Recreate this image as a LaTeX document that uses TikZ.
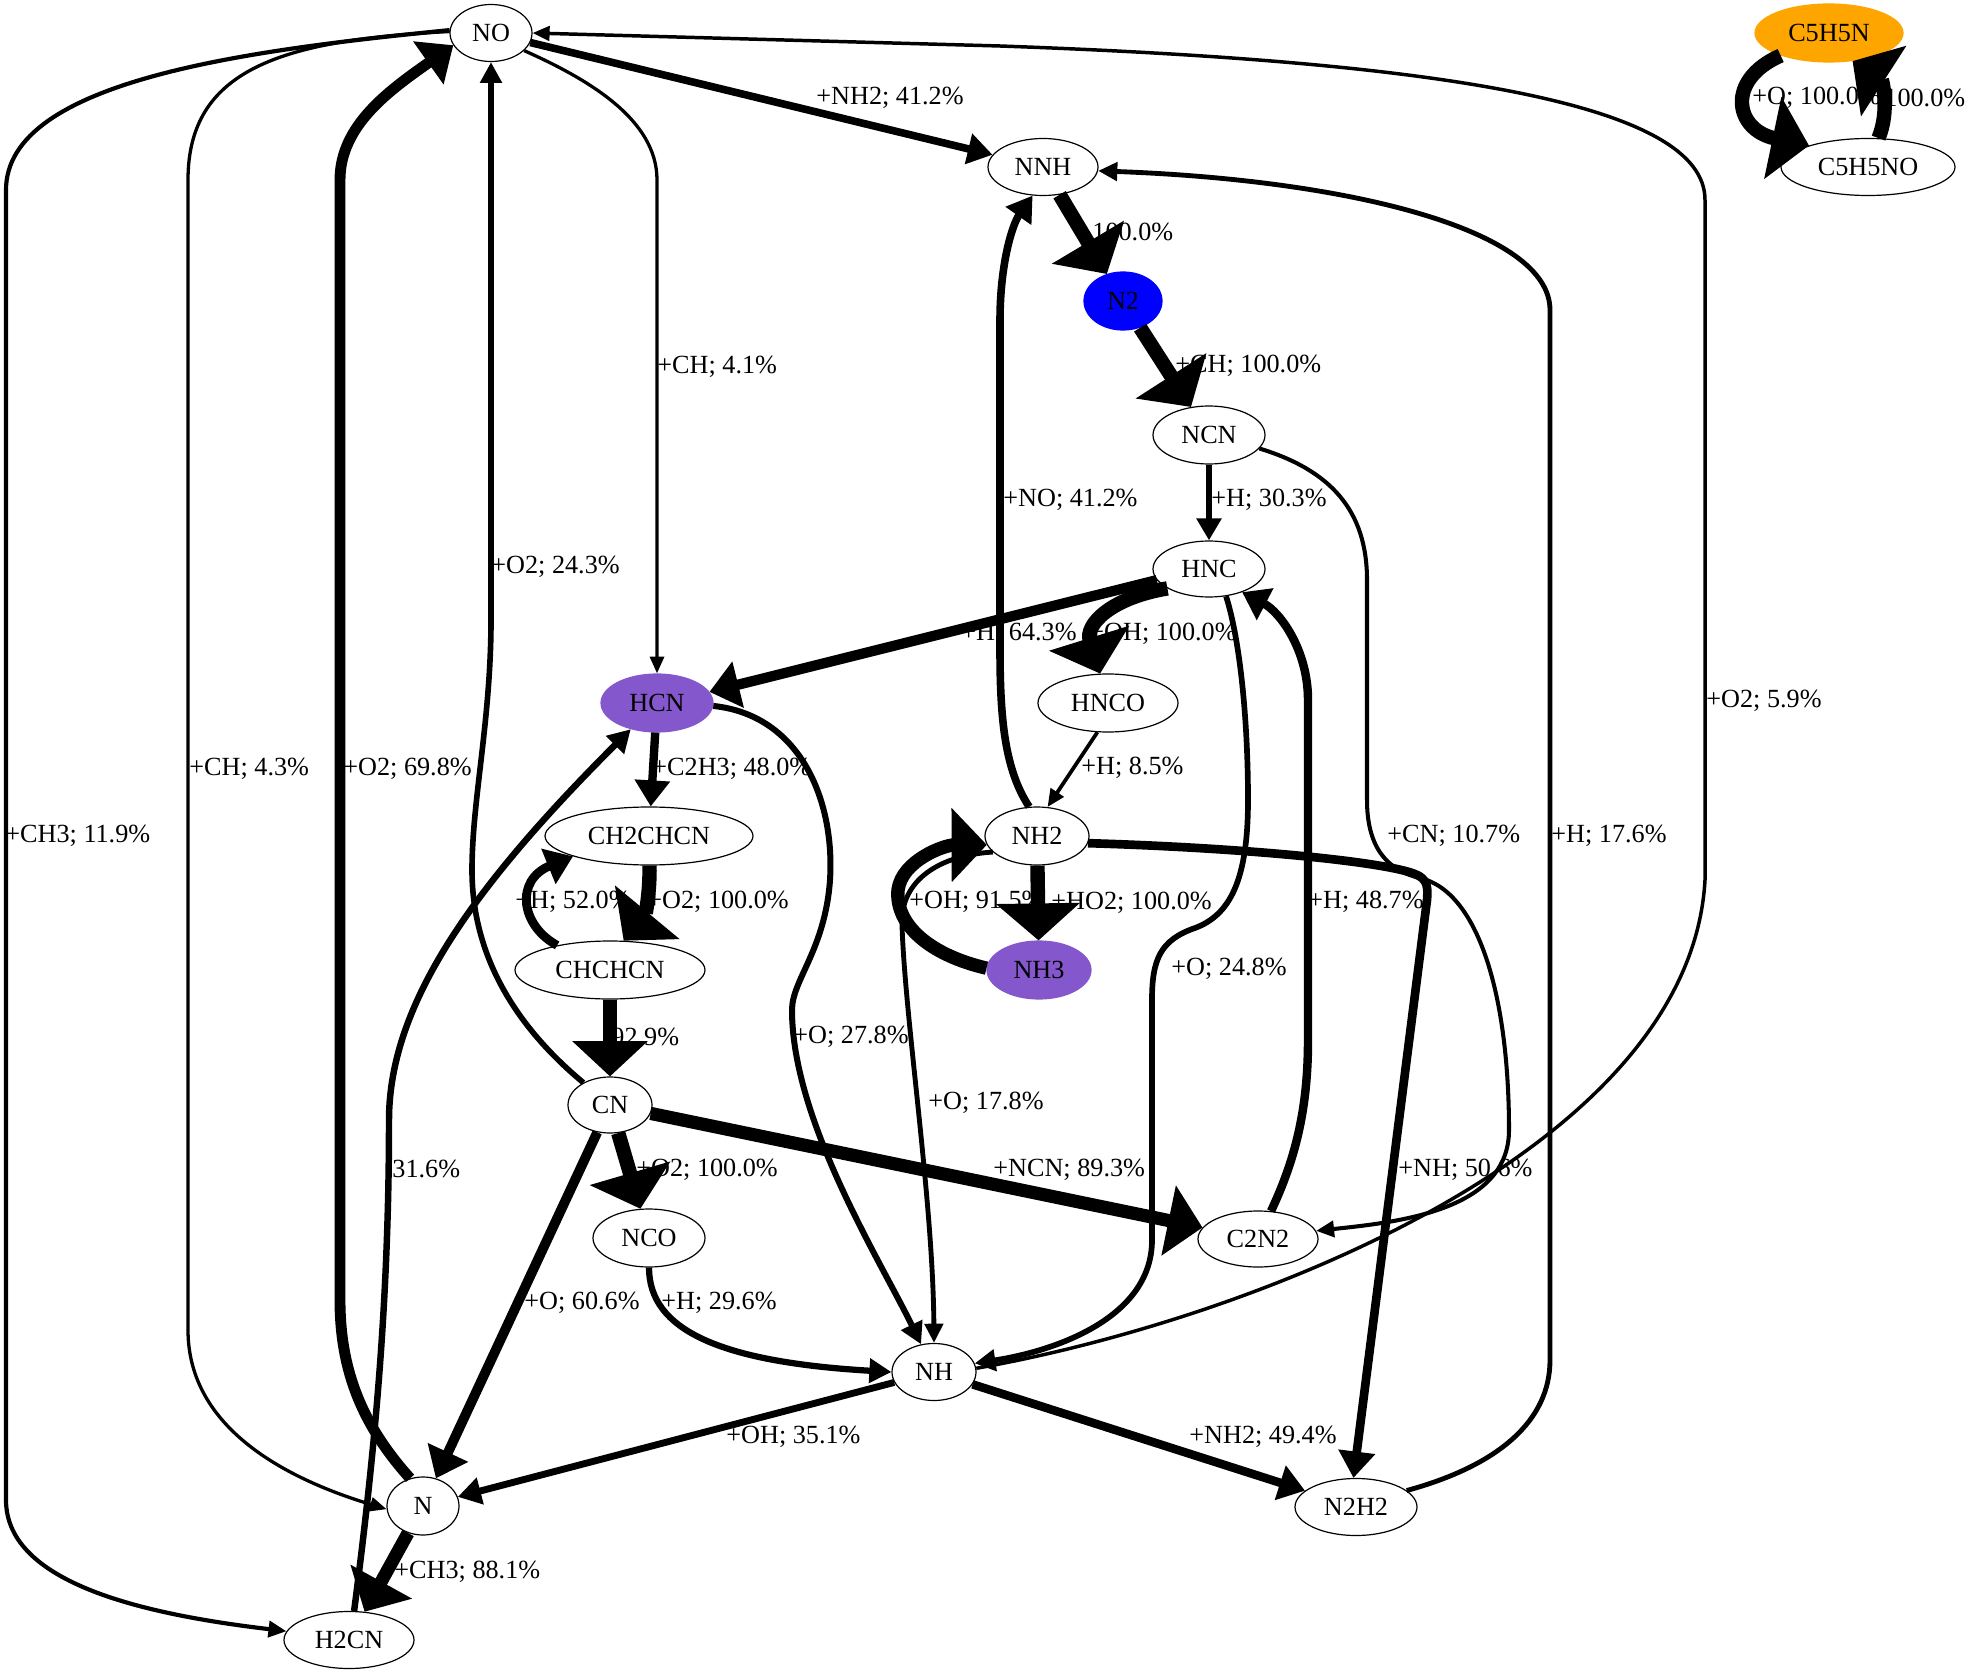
\documentclass[tikz,border=0pt]{standalone}
\usepackage{fontspec}
\setmainfont{Liberation Serif}
\usetikzlibrary{arrows.meta,shapes.geometric}
\definecolor{spurple}{RGB}{133,87,204}
\definecolor{sorange}{RGB}{255,165,0}
\begin{document}
\begin{tikzpicture}[x=0.5pt,y=-0.5pt,
  every node/.style={font=\fontsize{13.1}{15}\selectfont},
  sp/.style={ellipse, draw=black, line width=0.6pt, inner sep=0pt},
  lbl/.style={anchor=west, inner sep=0pt},
  ed/.style n args={3}{line width=#1pt, -{Triangle[length=#2pt, width=#3pt]}},
]
\fill[white] (0,0) rectangle (1971,1674);
\useasboundingbox (0,0) rectangle (1971,1674);

% nodes
\node[sp, minimum width=41pt, minimum height=28.5pt] (NO) at (491,33) {NO};
\node[sp, fill=sorange, draw=sorange, minimum width=74pt, minimum height=29pt] (C5H5N) at (1829,33) {C5H5N};
\node[sp, minimum width=87pt, minimum height=28.5pt] (C5H5NO) at (1868,167) {C5H5NO};
\node[sp, minimum width=55pt, minimum height=28.5pt] (NNH) at (1043,167) {NNH};
\node[sp, fill=blue, draw=blue, minimum width=39pt, minimum height=29pt] (N2) at (1123,301) {N2};
\node[sp, minimum width=56pt, minimum height=29pt] (NCN) at (1209,435) {NCN};
\node[sp, minimum width=56pt, minimum height=28pt] (HNC) at (1209,569) {HNC};
\node[sp, minimum width=70pt, minimum height=29pt] (HNCO) at (1108,703) {HNCO};
\node[sp, fill=spurple, draw=spurple, minimum width=56pt, minimum height=29pt] (HCN) at (657,703) {HCN};
\node[sp, minimum width=52pt, minimum height=29pt] (NH2) at (1037,836) {NH2};
\node[sp, minimum width=104pt, minimum height=29pt] (CH2CHCN) at (649,836) {CH2CHCN};
\node[sp, fill=spurple, draw=spurple, minimum width=52pt, minimum height=29pt] (NH3) at (1039,970) {NH3};
\node[sp, minimum width=95pt, minimum height=29pt] (CHCHCN) at (610,970) {CHCHCN};
\node[sp, minimum width=42pt, minimum height=28pt] (CN) at (610,1105) {CN};
\node[sp, minimum width=56pt, minimum height=29pt] (NCO) at (649,1238) {NCO};
\node[sp, minimum width=60pt, minimum height=28pt] (C2N2) at (1258,1239) {C2N2};
\node[sp, minimum width=42pt, minimum height=28.5pt] (NH) at (934,1372) {NH};
\node[sp, minimum width=36pt, minimum height=29pt] (N) at (423,1506) {N};
\node[sp, minimum width=61pt, minimum height=28.5pt] (N2H2) at (1356,1507) {N2H2};
\node[sp, minimum width=65pt, minimum height=28.5pt] (H2CN) at (349,1640) {H2CN};

% labels
\node[lbl] (l1) at (816,98) {+NH2; 41.2\%};
\node[lbl] (l2) at (1092,232) {100.0\%};
\node[lbl] (l3) at (1175,366) {+CH; 100.0\%};
\node[lbl] (l4) at (1003,500) {+NO; 41.2\%};
\node[lbl] (l5) at (1211,500) {+H; 30.3\%};
\node[lbl] (l6) at (1752,98) {+O; 100.0\%};
\node[lbl] (l7) at (1884,98) {100.0\%};
\node[lbl] (l8) at (657,367) {+CH; 4.1\%};
\node[lbl] (l9) at (491,567) {+O2; 24.3\%};
\node[lbl] (l10) at (189,769) {+CH; 4.3\%};
\node[lbl] (l11) at (343,769) {+O2; 69.8\%};
\node[lbl] (l12) at (5,836) {+CH3; 11.9\%};
\node[lbl] (l13) at (652,769) {+C2H3; 48.0\%};
\node[lbl] (l14) at (515,902) {+H; 52.0\%};
\node[lbl] (l15) at (647,902) {+O2; 100.0\%};
\node[lbl] (l16) at (611,1037) {92.9\%};
\node[lbl] (l17) at (793,1037) {+O; 27.8\%};
\node[lbl] (l18) at (909,902) {+OH; 91.5\%};
\node[lbl] (l19) at (961,634) {+H; 64.3\%};
\node[lbl] (l20) at (1089,634) {+OH; 100.0\%};
\node[lbl] (l21) at (1081,768) {+H; 8.5\%};
\node[lbl] (l22) at (1051,903) {+HO2; 100.0\%};
\node[lbl] (l23) at (1171,969) {+O; 24.8\%};
\node[lbl] (l24) at (1706,701) {+O2; 5.9\%};
\node[lbl] (l25) at (1387,836) {+CN; 10.7\%};
\node[lbl] (l26) at (1551,836) {+H; 17.6\%};
\node[lbl] (l27) at (1308,902) {+H; 48.7\%};
\node[lbl] (l28) at (928,1103) {+O; 17.8\%};
\node[lbl] (l29) at (636,1170) {+O2; 100.0\%};
\node[lbl] (l30) at (993,1170) {+NCN; 89.3\%};
\node[lbl] (l31) at (524,1303) {+O; 60.6\%};
\node[lbl] (l32) at (661,1303) {+H; 29.6\%};
\node[lbl] (l33) at (726,1437) {+OH; 35.1\%};
\node[lbl] (l34) at (392,1169) {31.6\%};
\node[lbl] (l35) at (1398,1170) {+NH; 50.6\%};
\node[lbl] (l36) at (1189,1437) {+NH2; 49.4\%};
\node[lbl] (l37) at (394,1572) {+CH3; 88.1\%};

% edges
\draw[ed={3.79}{12.4}{15}] (NO) -- (NNH);
\draw[ed={7.2}{18.5}{41}] (NNH) -- (N2);
\draw[ed={7.2}{18.5}{41}] (N2) -- (NCN);
\draw[ed={3.16}{11}{12}] (NCN) -- (HNC);
\draw[ed={2.02}{9}{8}] (NCN.-15) .. controls (1330,470) and (1367,510) .. (1367,580) -- (1367,800) .. controls (1367,845) and (1385,870) .. (1420,878) .. controls (1480,892) and (1509,1000) .. (1509,1130) .. controls (1509,1210) and (1400,1222) .. (C2N2.8);
\draw[ed={4.22}{13}{17.2}] (C2N2.65) .. controls (1295,1160) and (1308,1110) .. (1308,1040) -- (1308,700) .. controls (1308,650) and (1280,612) .. (HNC.-35);
\draw[ed={1.74}{8.5}{7.2}] (NH.5) .. controls (1250,1320) and (1690,1150) .. (1705,880) -- (1705,200) .. controls (1705,105) and (1450,62) .. (1000,46) -- (NO.east);
\draw[ed={2.42}{9.6}{9}] (N2H2.18) .. controls (1500,1465) and (1550,1420) .. (1550,1360) -- (1550,310) .. controls (1550,230) and (1350,180) .. (NNH.-4);
\draw[ed={3.79}{12.4}{15}] (NH2.105) .. controls (1005,770) and (1000,720) .. (1000,650) -- (1000,320) .. controls (1000,265) and (1012,225) .. (NNH.-110);
\draw[ed={5.13}{14.8}{23}] (HNC.192) -- (HCN.12);
\draw[ed={7.2}{18.5}{41}] (HNC.205) .. controls (1110,598) and (1085,625) .. (HNCO.105);
\draw[ed={1.89}{8.8}{7.6}] (HNCO.-110) -- (NH2.70);
\draw[ed={4.18}{13}{17}] (HCN) -- (CH2CHCN);
\draw[ed={1.64}{8.4}{7}] (NO.-28) .. controls (590,80) and (657,120) .. (657,180) -- (HCN.north);
\draw[ed={2.81}{10.4}{10.5}] (CN.140) .. controls (520,1030) and (472,960) .. (472,870) .. controls (472,800) and (491,720) .. (491,620) -- (NO.south);
\draw[ed={5.45}{15.3}{25.5}] (N.115) .. controls (362,1425) and (340,1370) .. (340,1300) -- (340,180) .. controls (340,125) and (390,90) .. (NO.198);
\draw[ed={1.65}{8.4}{7}] (NO.178) .. controls (280,40) and (188,70) .. (188,180) -- (188,1330) .. controls (188,1430) and (290,1480) .. (N.185);
\draw[ed={2.09}{9}{8}] (NO.176) .. controls (250,50) and (6,80) .. (6,190) -- (6,1500) .. controls (6,1585) and (150,1615) .. (H2CN.172);
\draw[ed={3.23}{11.2}{12.2}] (H2CN.80) .. controls (375,1450) and (389,1300) .. (389,1120) .. controls (389,1000) and (480,880) .. (HCN.-135);
\draw[ed={4.42}{13.3}{18.3}] (CHCHCN.155) .. controls (520,925) and (515,880) .. (CH2CHCN.-165);
\draw[ed={7.2}{18.5}{41}] (CH2CHCN.-89) .. controls (650,895) and (645,915) .. (CHCHCN.65);
\draw[ed={6.79}{17.7}{36.9}] (CHCHCN) -- (CN);
\draw[ed={7.2}{18.5}{41}] (CN) -- (NCO);
\draw[ed={6.58}{17.3}{34.9}] (CN) -- (C2N2);
\draw[ed={4.91}{14.3}{21.5}] (CN) -- (N);
\draw[ed={3.12}{11}{11.8}] (NCO.south) .. controls (649,1330) and (720,1362) .. (NH.west);
\draw[ed={3.01}{10.8}{11.3}] (HCN.-3) .. controls (800,715) and (835,800) .. (830,880) .. controls (825,950) and (792,980) .. (792,1010) .. controls (792,1120) and (880,1260) .. (NH.115);
\draw[ed={2.43}{9.6}{9}] (NH2.200) .. controls (940,855) and (900,880) .. (902,925) .. controls (905,1020) and (933,1200) .. (NH.north);
\draw[ed={6.71}{17.6}{36.1}] (NH3.178) .. controls (930,955) and (895,925) .. (898,890) .. controls (902,860) and (945,845) .. (NH2.190);
\draw[ed={7.2}{18.5}{41}] (NH2) -- (NH3);
\draw[ed={4.33}{13.2}{17.8}] (NH2.-8) .. controls (1250,848) and (1385,862) .. (1415,874) .. controls (1428,879) and (1428,888) .. (1427,900) -- (N2H2.95);
\draw[ed={4.27}{13}{17.4}] (NH) -- (N2H2);
\draw[ed={3.44}{11.6}{13.2}] (NH) -- (N);
\draw[ed={6.51}{17.2}{34.2}] (N) -- (H2CN);
\draw[ed={2.84}{10.4}{10.5}] (HNC.-58) .. controls (1240,640) and (1248,720) .. (1248,800) .. controls (1248,880) and (1230,915) .. (1195,928) .. controls (1160,940) and (1152,960) .. (1152,1000) -- (1152,1240) .. controls (1152,1320) and (1050,1352) .. (NH.12);
\draw[ed={7.2}{18.5}{41}] (C5H5N.205) .. controls (1725,80) and (1735,130) .. (C5H5NO.160);
\draw[ed={7.2}{18.5}{41}] (C5H5NO.70) .. controls (1890,110) and (1882,80) .. (C5H5N.-50);
\end{tikzpicture}
\end{document}
